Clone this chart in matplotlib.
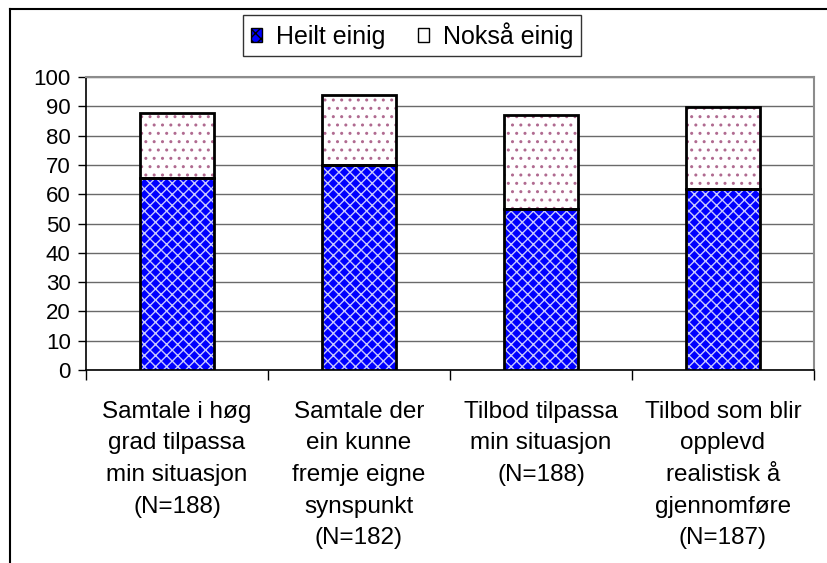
import matplotlib
matplotlib.use("Agg")
import matplotlib.pyplot as plt
from matplotlib.patches import Patch
from matplotlib.lines import Line2D
import numpy as np

categories = [
    "Samtale i høg\ngrad tilpassa\nmin situasjon\n(N=188)",
    "Samtale der\nein kunne\nfremje eigne\nsynspunkt\n(N=182)",
    "Tilbod tilpassa\nmin situasjon\n(N=188)",
    "Tilbod som blir\nopplevd\nrealistisk å\ngjennomføre\n(N=187)",
]
heilt_einig = [65.4, 69.9, 55.1, 61.9]
noksa_einig = [22.4, 24.0, 31.9, 28.0]
series_names = ["Heilt einig", "Nokså einig"]
yticks = list(range(0, 101, 10))

plt.rcParams['font.family'] = ['Liberation Sans', 'DejaVu Sans']
plt.rcParams['hatch.linewidth'] = 1.0

W, H = 828, 563
fig = plt.figure(figsize=(W / 100, H / 100), dpi=100)
ax = fig.add_axes([86 / W, 1 - 370 / H, (814 - 86) / W, (370 - 77) / H])

x = np.arange(len(categories))
width = 0.41

# Heilt einig: blue with white lattice
ax.bar(x, heilt_einig, width, color='#0000ff', edgecolor='#c8c8ff', hatch='xxx', linewidth=0, zorder=3)
ax.bar(x, heilt_einig, width, fill=False, edgecolor='black', linewidth=2, zorder=4)
# Nokså einig: white with sparse plum dots
ax.bar(x, noksa_einig, width, bottom=heilt_einig, color='white', edgecolor='#b06a90', hatch='..', linewidth=0, zorder=3)
ax.bar(x, noksa_einig, width, bottom=heilt_einig, fill=False, edgecolor='black', linewidth=2, zorder=4)

ax.set_xlim(-0.5, len(categories) - 0.5)
ax.set_ylim(0, 100)
ax.set_yticks(yticks)
ax.set_yticklabels([str(v) for v in yticks], fontsize=16)
ax.yaxis.grid(True, color='#6a6a6a', linewidth=1.0, zorder=0)
ax.set_axisbelow(True)

ax.set_xticks(np.arange(len(categories) + 1) - 0.5)
ax.set_xticklabels([])
ax.set_xticks(x, minor=True)
ax.set_xticklabels(categories, minor=True, fontsize=17.5, linespacing=1.57, va='top')
ax.tick_params(axis='x', which='major', direction='out', length=7, width=1, color='black')
ax.tick_params(axis='x', which='minor', length=0, pad=22)
ax.tick_params(axis='y', direction='out', length=6, width=1, color='black', pad=5)

for s in ['left', 'bottom']:
    ax.spines[s].set_color('black')
    ax.spines[s].set_linewidth(1.2)
for s in ['top', 'right']:
    ax.spines[s].set_color('#8c8c8c')
    ax.spines[s].set_linewidth(1.5)

handles = [
    Patch(facecolor='#0000ff', edgecolor='black', hatch='xxx', linewidth=1),
    Patch(facecolor='white', edgecolor='black', linewidth=1),
]
leg = fig.legend(handles, series_names, loc='center', bbox_to_anchor=(412 / W, 1 - 35.5 / H),
                 ncol=2, fontsize=18, frameon=True, fancybox=False, edgecolor='black',
                 handlelength=0.45, handleheight=0.45, handletextpad=0.55, columnspacing=1.3,
                 borderpad=0.3)
leg.get_frame().set_linewidth(1.0)

# outer chart frame (left and top edges visible)
fig.add_artist(Line2D([10 / W, 10 / W], [0, 1 - 9 / H], transform=fig.transFigure, color='black', linewidth=1.5))
fig.add_artist(Line2D([10 / W, 1], [1 - 9 / H, 1 - 9 / H], transform=fig.transFigure, color='black', linewidth=1.5))

fig.savefig("out.png", dpi=100)
